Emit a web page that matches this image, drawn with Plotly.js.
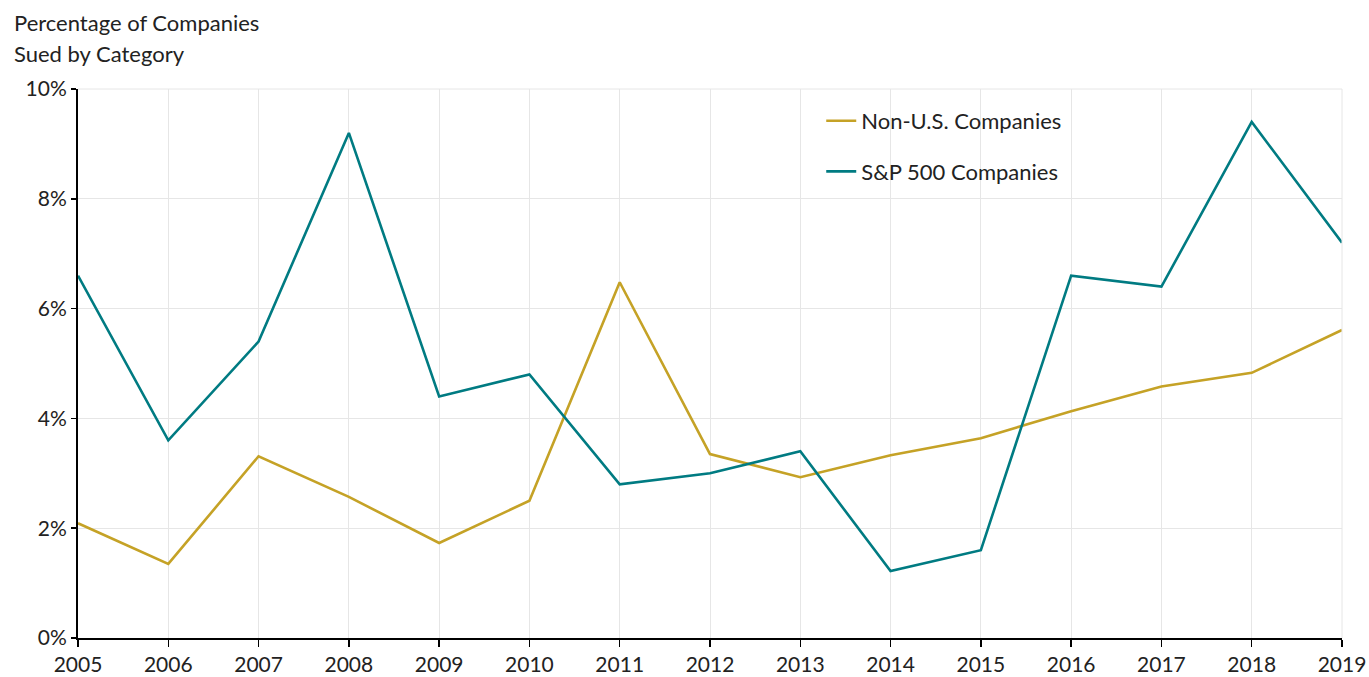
<!DOCTYPE html>
<html>
<head>
<meta charset="utf-8">
<script src="https://cdn.plot.ly/plotly-3.0.1.min.js"></script>
<style>html,body{margin:0;padding:0;background:#fff;}#chart{width:1369px;height:677px;}</style>
</head>
<body>
<div id="chart"></div>
<script>
const years = [2005,2006,2007,2008,2009,2010,2011,2012,2013,2014,2015,2016,2017,2018,2019];
const nonUS = [2.09,1.35,3.31,2.57,1.73,2.5,6.48,3.35,2.93,3.33,3.64,4.13,4.58,4.83,5.61];
const sp500 = [6.6,3.6,5.4,9.2,4.4,4.8,2.8,3.0,3.4,1.22,1.6,6.6,6.4,9.4,7.2];
const seriesNames = ['Non-U.S. Companies','S&P 500 Companies'];
const yTicks = [0,2,4,6,8,10];
const yTickText = ['0%','2%','4%','6%','8%','10%'];
const titleLines = ['Percentage of Companies','Sued by Category'];

const font = 'Lato, "Open Sans", sans-serif';
const fs = 21;
const fsBig = 22;
const traces = [
  {x: years, y: nonUS, name: seriesNames[0], mode: 'lines', legendgroup: 'a',
   line: {color: '#C5A226', width: 2.6}},
  {x: years, y: sp500, name: seriesNames[1], mode: 'lines', legendgroup: 'b',
   line: {color: '#007B82', width: 2.6}}
];
const layout = {
  width: 1369, height: 677,
  margin: {l: 78, r: 27, t: 89, b: 39},
  paper_bgcolor: '#fff', plot_bgcolor: '#fff',
  font: {family: font, size: fs, color: '#222'},
  showlegend: true,
  legend: {x: 0.588, y: 0.98, xanchor: 'left', yanchor: 'top', traceorder: 'grouped',
           tracegroupgap: 19, font: {family: font, size: fsBig, color: '#222'}, bgcolor: 'rgba(0,0,0,0)'},
  xaxis: {range: [2005, 2019], tickvals: years, ticktext: years.map(String),
          showgrid: true, gridcolor: '#e6e6e6', gridwidth: 1,
          showline: true, linecolor: '#000', linewidth: 2,
          ticks: 'outside', ticklen: 7, tickcolor: '#000', tickwidth: 1.5,
          zeroline: false, fixedrange: true, tickfont: {family: font, size: fs, color: '#222'}},
  yaxis: {range: [0, 10], tickvals: yTicks, ticktext: yTickText,
          showgrid: true, gridcolor: '#e6e6e6', gridwidth: 1,
          showline: true, linecolor: '#000', linewidth: 2,
          ticks: 'outside', ticklen: 5, tickcolor: '#000', tickwidth: 1.5,
          zeroline: false, fixedrange: true, tickfont: {family: font, size: fs, color: '#222'}},
  shapes: [
    {type: 'line', xref: 'paper', yref: 'paper', x0: 1, x1: 1, y0: 0, y1: 1, line: {color: '#e6e6e6', width: 1}},
    {type: 'line', xref: 'paper', yref: 'paper', x0: 0, x1: 1, y0: 1, y1: 1, line: {color: '#e6e6e6', width: 1}}
  ],
  annotations: [
    {xref: 'paper', yref: 'paper', x: -0.052, y: 1.122, xanchor: 'left', yanchor: 'middle', align: 'left',
     showarrow: false, text: titleLines[0], font: {family: font, size: fsBig, color: '#222'}},
    {xref: 'paper', yref: 'paper', x: -0.052, y: 1.0638, xanchor: 'left', yanchor: 'middle', align: 'left',
     showarrow: false, text: titleLines[1], font: {family: font, size: fsBig, color: '#222'}}
  ]
};
Plotly.newPlot('chart', traces, layout, {displayModeBar: false, staticPlot: true});
</script>
</body>
</html>
